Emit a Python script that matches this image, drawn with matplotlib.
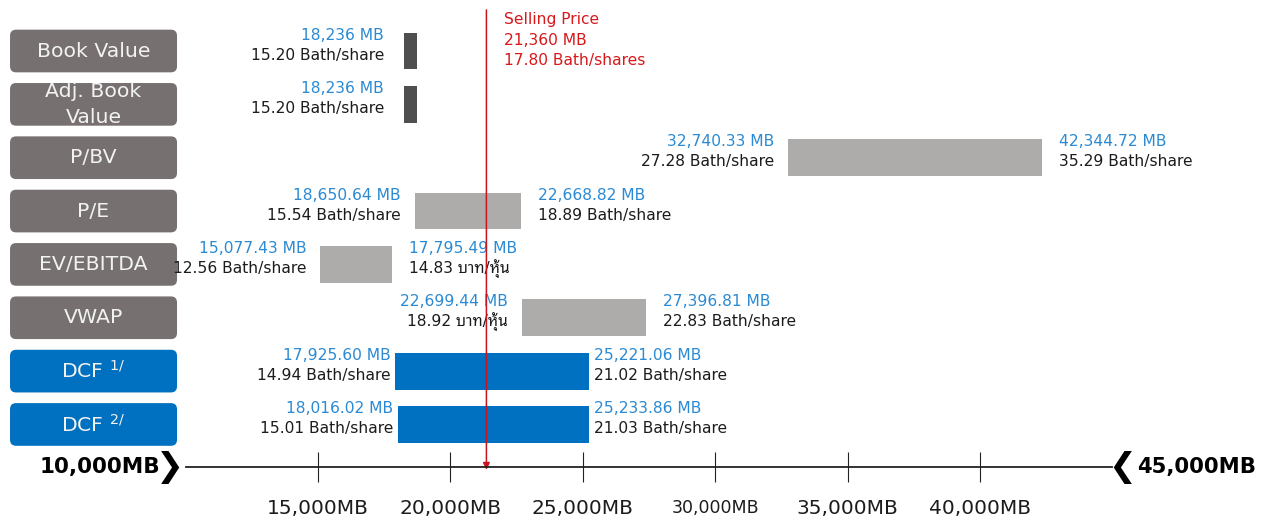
import matplotlib
matplotlib.use("Agg")
import matplotlib.pyplot as plt
import matplotlib.transforms as mtransforms
from matplotlib.patches import FancyBboxPatch

plt.rcParams["font.family"] = ["DejaVu Sans", "Noto Sans Thai Looped"]

# valuation ranges (million baht) and per-share prices
methods = ["Book Value", "Adj. Book\nValue", "P/BV", "P/E", "EV/EBITDA", "VWAP",
           "DCF $^{1/}$", "DCF $^{2/}$"]
low_mb = [18236, 18236, 32740.33, 18650.64, 15077.43, 22699.44, 17925.60, 18016.02]
high_mb = [None, None, 42344.72, 22668.82, 17795.49, 27396.81, 25221.06, 25233.86]
low_price = [15.20, 15.20, 27.28, 15.54, 12.56, 18.92, 14.94, 15.01]
high_price = [None, None, 35.29, 18.89, 14.83, 22.83, 21.02, 21.03]
low_unit = ["Bath/share"] * 5 + ["บาท/หุ้น", "Bath/share", "Bath/share"]
high_unit = ["", "", "Bath/share", "Bath/share", "บาท/หุ้น", "Bath/share",
             "Bath/share", "Bath/share"]
kind = ["mark", "mark", "range", "range", "range", "range", "dcf", "dcf"]

selling_mb = 21360
selling_price = 17.80

axis_min, axis_max = 10000, 45000
axis_ticks = [15000, 20000, 25000, 30000, 35000, 40000]

# styles
GRAY_BOX = "#767170"
BLUE = "#0070C0"
TXT_BLUE = "#2B8AD3"
TXT_BLACK = "#1C1C1C"
RED = "#D7191C"
bar_color = {"mark": "#4F4F4F", "range": "#ADACAB", "dcf": BLUE}
box_color = {"mark": GRAY_BOX, "range": GRAY_BOX, "dcf": BLUE}
gap_left = {"mark": 14, "range": 10, "dcf": 3.5}
gap_right = {"mark": 12, "range": 12, "dcf": 3.5}
MARK_WIDTH = 520  # width of the single-value marker, MB

fig = plt.figure(figsize=(12.69, 5.23), dpi=100)
ax = fig.add_axes([0, 0, 1, 1])
ax.set_xlim(2991, 50914)
ax.set_ylim(8.847, -0.956)
ax.axis("off")

blend = mtransforms.blended_transform_factory(ax.transAxes, ax.transData)

for i, name in enumerate(methods):
    k = kind[i]
    # label box on the left
    bh = 0.8
    box = FancyBboxPatch((0.0079, i - bh / 2), 0.1316, bh,
                         boxstyle="round,pad=0,rounding_size=0.0048",
                         mutation_aspect=1269 / 53.35,
                         transform=blend, fc=box_color[k], ec="none")
    ax.add_patch(box)
    ax.text(0.0737, i, name, transform=blend, ha="center", va="center",
            fontsize=14.7, color="#F2F2F2", linespacing=1.46)

    # bar
    lo = low_mb[i]
    hi = high_mb[i] if high_mb[i] is not None else lo + MARK_WIDTH
    ax.barh(i, hi - lo, left=lo, height=0.69, color=bar_color[k])

    dec = 0 if k == "mark" else 2
    ax.annotate(f"{lo:,.{dec}f} MB", (lo, i), xytext=(-gap_left[k], 11.5),
                textcoords="offset points", ha="right", va="center",
                fontsize=11.2, color=TXT_BLUE)
    ax.annotate(f"{low_price[i]:.2f} {low_unit[i]}", (lo, i),
                xytext=(-gap_left[k], -3), textcoords="offset points",
                ha="right", va="center", fontsize=11.2, color=TXT_BLACK)
    if high_mb[i] is not None:
        ax.annotate(f"{hi:,.2f} MB", (hi, i), xytext=(gap_right[k], 11.5),
                    textcoords="offset points", ha="left", va="center",
                    fontsize=11.2, color=TXT_BLUE)
        ax.annotate(f"{high_price[i]:.2f} {high_unit[i]}", (hi, i),
                    xytext=(gap_right[k], -3), textcoords="offset points",
                    ha="left", va="center", fontsize=11.2, color=TXT_BLACK)

# selling price line
ax.annotate("", xy=(selling_mb, 7.85), xytext=(selling_mb, -0.77),
            arrowprops=dict(arrowstyle="-|>", color="#C8141E", lw=1.1,
                            mutation_scale=10, shrinkA=0, shrinkB=0))
ax.annotate(f"Selling Price\n{selling_mb:,} MB\n{selling_price:.2f} Bath/shares",
            (selling_mb, -0.77), xytext=(13, -1.5), textcoords="offset points",
            ha="left", va="top", fontsize=11.2, color=RED, linespacing=1.47)

# number line
ax2 = fig.add_axes([0.14626, 1 - 467 / 523, 0.7303, 0.0001])
ax2.set_xlim(axis_min, axis_max)
ax2.patch.set_visible(False)
for s in ["top", "left", "right"]:
    ax2.spines[s].set_visible(False)
ax2.spines["bottom"].set_linewidth(1.3)
ax2.spines["bottom"].set_color("#222222")
ax2.set_yticks([])
ax2.set_xticks(axis_ticks)
ax2.set_xticklabels([f"{t:,}MB" for t in axis_ticks])
ax2.tick_params(axis="x", direction="inout", length=22, width=0.8,
                color="#222222", labelsize=14.5, pad=12, labelcolor=TXT_BLACK)
ax2.get_xticklabels()[3].set_fontsize(12.5)

xt = ax2.get_xaxis_transform()
ax2.annotate("❯", (axis_min, 0), xycoords=xt, xytext=(-1, 0),
             textcoords="offset points", ha="right", va="center",
             fontsize=24, fontweight="bold", color="black")
ax2.annotate("10,000MB", (axis_min, 0), xycoords=xt, xytext=(-18, 0),
             textcoords="offset points", ha="right", va="center",
             fontsize=15.5, fontweight="bold", color="black")
ax2.annotate("❮", (axis_max, 0), xycoords=xt, xytext=(-3, 0),
             textcoords="offset points", ha="left", va="center",
             fontsize=24, fontweight="bold", color="black")
ax2.annotate("45,000MB", (axis_max, 0), xycoords=xt, xytext=(18, 0),
             textcoords="offset points", ha="left", va="center",
             fontsize=15.2, fontweight="bold", color="black")

fig.savefig("out.png", dpi=100)
